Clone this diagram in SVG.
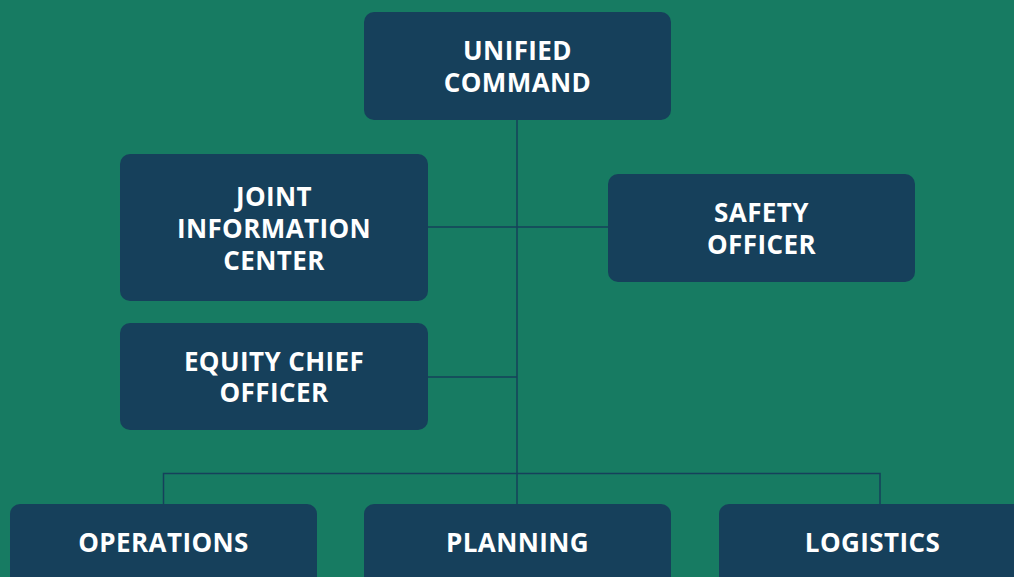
<svg xmlns="http://www.w3.org/2000/svg" width="1014" height="577" viewBox="0 0 1014 577">
<style>
.box{fill:#16405B}
.t{font-family:"Open Sans","Liberation Sans",sans-serif;font-weight:700;font-size:26px;fill:#FFFFFF;text-anchor:middle;letter-spacing:0.4px}
.c{stroke:#16405B;stroke-width:1.5;fill:none}
</style>
<rect width="1014" height="577" fill="#177B62"/>
<g id="connectors">
<path class="c" d="M517 120 V473"/>
<path class="c" d="M428 227 H608"/>
<path class="c" d="M428 377 H517"/>
<path class="c" d="M163.5 504 V473.5 H880 V504"/>
<path class="c" d="M517 473 V504"/>
</g>
<g id="unified-command">
<rect class="box" x="364" y="12" width="307" height="108" rx="10"/>
<text class="t"><tspan x="517.5" y="60">UNIFIED</tspan><tspan x="517.5" y="92">COMMAND</tspan></text>
</g>
<g id="joint-information-center">
<rect class="box" x="120" y="154" width="308" height="147" rx="10"/>
<text class="t"><tspan x="274" y="206">JOINT</tspan><tspan x="274" y="238">INFORMATION</tspan><tspan x="274" y="270">CENTER</tspan></text>
</g>
<g id="safety-officer">
<rect class="box" x="608" y="174" width="307" height="108" rx="10"/>
<text class="t"><tspan x="761.5" y="222">SAFETY</tspan><tspan x="761.5" y="254">OFFICER</tspan></text>
</g>
<g id="equity-chief-officer">
<rect class="box" x="120" y="323" width="308" height="107" rx="10"/>
<text class="t"><tspan x="274" y="371">EQUITY CHIEF</tspan><tspan x="274" y="402">OFFICER</tspan></text>
</g>
<g id="operations">
<rect class="box" x="10" y="504" width="307" height="100" rx="10"/>
<text class="t" x="163.5" y="552">OPERATIONS</text>
</g>
<g id="planning">
<rect class="box" x="364" y="504" width="307" height="100" rx="10"/>
<text class="t" x="517.5" y="552">PLANNING</text>
</g>
<g id="logistics">
<rect class="box" x="719" y="504" width="307" height="100" rx="10"/>
<text class="t" x="872.5" y="552">LOGISTICS</text>
</g>
</svg>
